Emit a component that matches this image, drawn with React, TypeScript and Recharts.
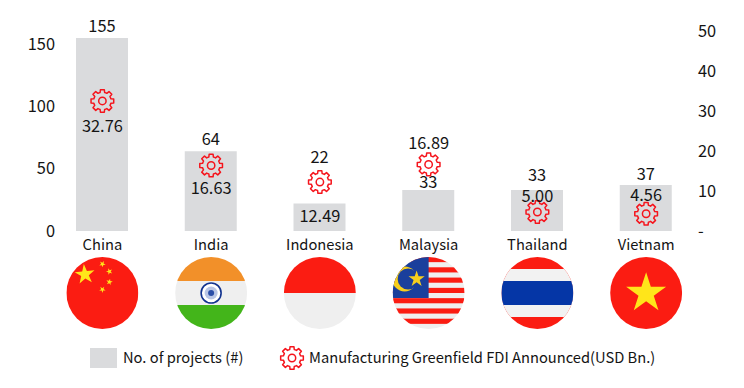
import { Bar, ComposedChart, LabelList, Legend, Line, XAxis, YAxis } from "recharts";

const countries = ["China", "India", "Indonesia", "Malaysia", "Thailand", "Vietnam"];
const projects = [155, 64, 22, 33, 33, 37];
const fdiAnnounced = [32.76, 16.63, 12.49, 16.89, 5.0, 4.56];
const leftTicks = [0, 50, 100, 150];
const rightTicks = [0, 10, 20, 30, 40, 50];

/** Hand-placed label nudges (px from the mark), the source chart places these one by one. */
const PROJECT_LABEL_DY = [-12, -12, -47, -8, -15, -11];
const FDI_LABEL_DY = [26, 24, 35, -20, -15, -18];

const FONT = '"Noto Sans CJK SC", "Noto Sans", sans-serif';
const TEXT_COLOR = "#141414";
const BAR_COLOR = "#dadbdd";
const GEAR_COLOR = "#f5141c";
const FLAG_RED = "#fb1c12";
const FLAG_WHITE = "#efefef";
const FLAG_YELLOW = "#ffe51a";

const rows = countries.map((name, i) => ({
  name,
  projects: projects[i],
  fdi: fdiAnnounced[i],
}));

function gearPath(cx: number, cy: number, outer: number, inner: number) {
  const teeth = 8;
  const pt = (r: number, a: number) =>
    `${(cx + r * Math.sin(a)).toFixed(2)} ${(cy - r * Math.cos(a)).toFixed(2)}`;
  let d = "";
  for (let i = 0; i < teeth; i++) {
    const a = (i * 2 * Math.PI) / teeth;
    d += `${i === 0 ? "M" : "L"}${pt(inner, a - 0.26)} L${pt(outer, a - 0.17)} L${pt(outer, a + 0.17)} L${pt(inner, a + 0.26)} `;
    d += `A${inner} ${inner} 0 0 1 ${pt(inner, a + (2 * Math.PI) / teeth - 0.26)} `;
  }
  return d + "Z";
}

function Gear({ cx, cy }: { cx: number; cy: number }) {
  return (
    <g fill="none" stroke={GEAR_COLOR} strokeWidth={1.5} strokeLinejoin="round">
      <path d={gearPath(cx, cy, 11.5, 8.8)} />
      <circle cx={cx} cy={cy} r={3.7} />
    </g>
  );
}

function starPoints(cx: number, cy: number, r: number, rotate = 0) {
  const pts: string[] = [];
  for (let i = 0; i < 10; i++) {
    const rad = i % 2 === 0 ? r : r * 0.382;
    const a = rotate + (i * Math.PI) / 5;
    pts.push(`${cx + rad * Math.sin(a)},${cy - rad * Math.cos(a)}`);
  }
  return pts.join(" ");
}

function Flag({ name }: { name: string }) {
  const R = 36;
  const band = (y: number, h: number, fill: string) => (
    <rect x={-R} y={y} width={R * 2} height={h} fill={fill} />
  );
  let art = null;
  if (name === "China") {
    art = (
      <>
        {band(-R, R * 2, FLAG_RED)}
        <polygon points={starPoints(-17.5, -18.5, 10.5, -0.1)} fill={FLAG_YELLOW} />
        <polygon points={starPoints(0, -29, 3.4, 0.5)} fill={FLAG_YELLOW} />
        <polygon points={starPoints(7, -21.5, 3.4, 0.9)} fill={FLAG_YELLOW} />
        <polygon points={starPoints(7, -11, 3.4, 0.2)} fill={FLAG_YELLOW} />
        <polygon points={starPoints(0, -3.5, 3.4, 0.6)} fill={FLAG_YELLOW} />
      </>
    );
  } else if (name === "India") {
    art = (
      <>
        {band(-R, 24, "#f29029")}
        {band(-12, 24, FLAG_WHITE)}
        {band(12, 24, "#43b51a")}
        <circle r={10} fill="#fff" stroke="#12338f" strokeWidth={1.6} />
        <circle r={6.5} fill="#b9c6e6" />
        <circle r={3} fill="#2a4ea8" />
      </>
    );
  } else if (name === "Indonesia") {
    art = (
      <>
        {band(-R, R, FLAG_RED)}
        {band(0, R, FLAG_WHITE)}
      </>
    );
  } else if (name === "Malaysia") {
    const stripeH = 72 / 14;
    art = (
      <>
        {band(-R, R * 2, FLAG_WHITE)}
        {Array.from({ length: 7 }, (_, i) => (
          <rect key={i} x={-R} y={-R + i * 2 * stripeH} width={R * 2} height={stripeH} fill={FLAG_RED} />
        ))}
        <rect x={-R} y={-R} width={R} height={41} fill="#1a3f9c" />
        <circle cx={-24} cy={-14} r={12.5} fill="#f7cf1d" />
        <circle cx={-20.5} cy={-14} r={10.5} fill="#1a3f9c" />
        <polygon points={starPoints(-12, -14, 8.5)} fill="#f7cf1d" />
      </>
    );
  } else if (name === "Thailand") {
    art = (
      <>
        {band(-R, 72, FLAG_RED)}
        {band(-24, 48, "#f2f2f2")}
        {band(-12, 24, "#0536a6")}
      </>
    );
  } else {
    art = (
      <>
        {band(-R, R * 2, FLAG_RED)}
        <polygon points={starPoints(0, 0.3, 21)} fill={FLAG_YELLOW} />
      </>
    );
  }
  return (
    <>
      <clipPath id={`flag-${name}`}>
        <circle r={R} />
      </clipPath>
      <g clipPath={`url(#flag-${name})`}>{art}</g>
    </>
  );
}

/** Category tick: country name with its round flag underneath. */
function CountryTick({ x, y, payload }: any) {
  return (
    <g transform={`translate(${x},${y})`}>
      <text y={11} textAnchor="middle" fontFamily={FONT} fontSize={14.7} fill={TEXT_COLOR}>
        {payload.value}
      </text>
      <g transform="translate(0,54)">
        <Flag name={payload.value} />
      </g>
    </g>
  );
}

function LeftTick({ y, payload }: any) {
  return (
    <text x={55} y={y} dy={5.5} textAnchor="end" fontFamily={FONT} fontSize={16.4} fill={TEXT_COLOR}>
      {payload.value}
    </text>
  );
}

function RightTick({ y, payload }: any) {
  return (
    <text x={698} y={y} dy={5.5} fontFamily={FONT} fontSize={16.4} fill={TEXT_COLOR}>
      {payload.value === 0 ? "-" : payload.value}
    </text>
  );
}

function ProjectLabel({ x, y, width, value, index }: any) {
  return (
    <text
      x={x + width / 2}
      y={y + PROJECT_LABEL_DY[index]}
      dy={6}
      textAnchor="middle"
      fontFamily={FONT}
      fontSize={16.4}
      fill={TEXT_COLOR}
    >
      {value}
    </text>
  );
}

function FdiLabel({ x, y, value, index }: any) {
  return (
    <text
      x={x}
      y={y + FDI_LABEL_DY[index]}
      dy={6}
      textAnchor="middle"
      fontFamily={FONT}
      fontSize={16.4}
      fill={TEXT_COLOR}
    >
      {Number(value).toFixed(2)}
    </text>
  );
}

function ChartLegend() {
  return (
    <svg width={744} height={388} style={{ display: "block" }}>
      <rect x={90} y={348} width={27} height={20} fill={BAR_COLOR} />
      <text x={123} y={363} fontFamily={FONT} fontSize={14.7} fill={TEXT_COLOR}>
        No. of projects (#)
      </text>
      <Gear cx={292} cy={358} />
      <text x={309} y={363} fontFamily={FONT} fontSize={14.7} fill={TEXT_COLOR}>
        Manufacturing Greenfield FDI Announced(USD Bn.)
      </text>
    </svg>
  );
}

export default function App() {
  return (
    <div style={{ position: "absolute", left: 0, top: 0, width: 744, height: 388, background: "#fff" }}>
      <ComposedChart
        width={744}
        height={388}
        data={rows}
        barSize={52}
        margin={{ top: 31, right: 0, bottom: 0, left: 8 }}
      >
        <XAxis
          dataKey="name"
          height={157}
          axisLine={false}
          tickLine={false}
          interval={0}
          tick={<CountryTick />}
        />
        <YAxis
          yAxisId="left"
          width={40}
          domain={[0, 160.6]}
          ticks={leftTicks}
          axisLine={false}
          tickLine={false}
          tick={<LeftTick />}
        />
        <YAxis
          yAxisId="right"
          orientation="right"
          width={43.5}
          domain={[0, 50]}
          ticks={rightTicks}
          axisLine={false}
          tickLine={false}
          tick={<RightTick />}
        />
        <Legend
          layout="horizontal"
          verticalAlign="middle"
          align="center"
          wrapperStyle={{ position: "absolute", left: 0, top: 0, width: 744, height: 388, pointerEvents: "none" }}
          content={<ChartLegend />}
        />
        <Bar yAxisId="left" dataKey="projects" fill={BAR_COLOR} isAnimationActive={false}>
          <LabelList dataKey="projects" content={<ProjectLabel />} />
        </Bar>
        <Line
          yAxisId="right"
          dataKey="fdi"
          stroke="none"
          isAnimationActive={false}
          dot={(props: any) => <Gear key={props.index} cx={props.cx} cy={props.cy + 1} />}
        >
          <LabelList dataKey="fdi" content={<FdiLabel />} />
        </Line>
      </ComposedChart>
    </div>
  );
}
